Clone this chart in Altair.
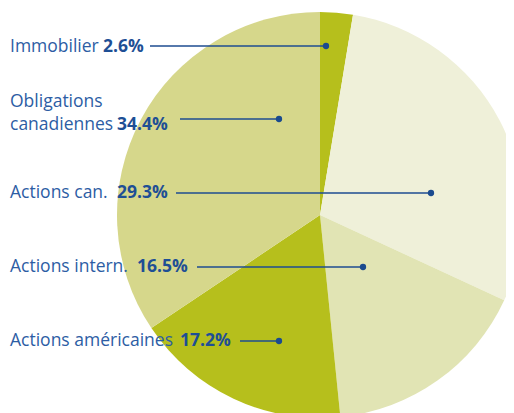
import altair as alt
import pandas as pd

# data
names = ["Immobilier", "Actions can.", "Actions intern.", "Actions américaines", "Obligations canadiennes"]
values = [2.6, 29.3, 16.5, 17.2, 34.4]
pct_labels = ["2.6%", "29.3%", "16.5%", "17.2%", "34.4%"]
colors = ["#b6bf1c", "#eff0d9", "#e1e4b4", "#b6bf1c", "#d6d78b"]

# label layout (page pixels)
label_lines = [["Immobilier"], ["Actions can."], ["Actions intern."], ["Actions américaines"], ["Obligations", "canadiennes"]]
label_y = [47, 193, 267, 341, 125]
pct_x = [103, 117, 137, 180, 117]
line_x0 = [150, 176, 197, 240, 180]
dot_x = [326, 431, 363, 279, 279]
dot_y = [46, 193, 267, 341, 119]

W, H = 498, 405
CX, CY, R = 320 - 8, 215 - 8, 203

pie_df = pd.DataFrame({"name": names, "value": values, "order": list(range(len(names)))})

pie = alt.Chart(pie_df).mark_arc(radius=R, stroke=None).encode(
    theta=alt.Theta("value:Q", stack=True),
    order=alt.Order("order:Q"),
    color=alt.Color("name:N", scale=alt.Scale(domain=names, range=colors), legend=None),
    x=alt.value(CX),
    y=alt.value(CY),
)

xs = alt.Scale(domain=[8, 8 + W])
ys = alt.Scale(domain=[8 + H, 8])

rows_name = []
for lines, y in zip(label_lines, label_y):
    n = len(lines)
    for i, t in enumerate(lines):
        rows_name.append({"t": t, "x": 10, "y": y - (n - 1 - i) * 23})
name_df = pd.DataFrame(rows_name)
pct_df = pd.DataFrame({"t": pct_labels, "x": pct_x, "y": label_y})
line_df = pd.DataFrame({"x0": line_x0, "x1": dot_x, "y": dot_y})

FONT = "Open Sans"

name_text = alt.Chart(name_df).mark_text(
    align="left", baseline="middle", font=FONT, fontSize=17.5, color="#2d5da4"
).encode(
    x=alt.X("x:Q", scale=xs, axis=None),
    y=alt.Y("y:Q", scale=ys, axis=None),
    text="t:N",
)

pct_text = alt.Chart(pct_df).mark_text(
    align="left", baseline="middle", font=FONT, fontSize=17.5, fontWeight="bold", color="#1e4f95"
).encode(
    x=alt.X("x:Q", scale=xs, axis=None),
    y=alt.Y("y:Q", scale=ys, axis=None),
    text="t:N",
)

leaders = alt.Chart(line_df).mark_rule(color="#1e4d90", strokeWidth=1.6).encode(
    x=alt.X("x0:Q", scale=xs, axis=None),
    x2="x1:Q",
    y=alt.Y("y:Q", scale=ys, axis=None),
)

dots = alt.Chart(line_df).mark_circle(color="#1a4a8e", opacity=1, size=40).encode(
    x=alt.X("x1:Q", scale=xs, axis=None),
    y=alt.Y("y:Q", scale=ys, axis=None),
)

chart = alt.layer(pie, leaders, dots, name_text, pct_text).properties(
    width=W, height=H, padding=0, autosize=alt.AutoSizeParams(type="none")
).configure_view(stroke=None)

chart.save("out.html", embed_options={"renderer": "svg", "actions": False})
